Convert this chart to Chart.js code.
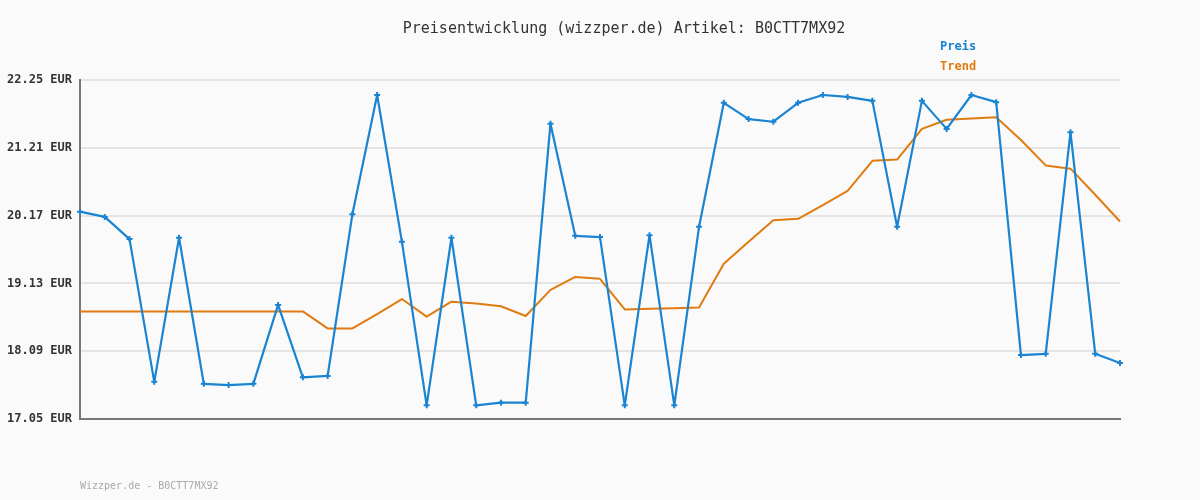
<!DOCTYPE html>
<html>
<head>
<meta charset="utf-8">
<script src="https://cdn.jsdelivr.net/npm/chart.js@4/dist/chart.umd.min.js"></script>
<style>
  html, body { margin: 0; padding: 0; background: #fafafa; }
  #wrap { position: relative; width: 1200px; height: 500px; font-family: "DejaVu Sans Mono", "Liberation Mono", monospace; }
  #title { position: absolute; left: 0; width: 1248px; top: 19px; text-align: center; font-size: 15px; color: #333; }
  .leg { position: absolute; left: 940px; font-size: 12px; font-weight: bold; }
  #footer { position: absolute; left: 80px; top: 480px; font-size: 10px; color: #aaa; }
</style>
</head>
<body>
<div id="wrap">
  <canvas id="priceChart" width="1200" height="500"></canvas>
  <div id="title">Preisentwicklung (wizzper.de) Artikel: B0CTT7MX92</div>
  <div class="leg" style="top:39px;color:#1581d0">Preis</div>
  <div class="leg" style="top:59px;color:#e07b10">Trend</div>
  <div id="footer">Wizzper.de - B0CTT7MX92</div>
</div>
<script>
let categories = [];
for (let i = 1; i <= 43; i++) categories.push(String(i));

let preis = [20.23, 20.15, 19.81, 17.62, 19.83, 17.59, 17.57, 17.59, 18.80, 17.69,
             17.71, 20.19, 22.02, 19.77, 17.26, 19.83, 17.26, 17.30, 17.30, 21.58,
             19.86, 19.84, 17.26, 19.87, 17.26, 20.00, 21.90, 21.65, 21.61, 21.90,
             22.02, 21.99, 21.93, 20.00, 21.93, 21.50, 22.02, 21.91, 18.03, 18.05,
             21.45, 18.05, 17.91];

let trend = [18.70, 18.70, 18.70, 18.70, 18.70, 18.70, 18.70, 18.70, 18.70, 18.70,
             18.44, 18.44, 18.66, 18.89, 18.62, 18.85, 18.82, 18.78, 18.63, 19.03,
             19.23, 19.20, 18.73, 18.74, 18.75, 18.76, 19.43, 19.77, 20.10, 20.12,
             20.33, 20.55, 21.01, 21.03, 21.50, 21.64, 21.66, 21.68, 21.33, 20.94,
             20.89, 20.49, 20.08];

let yTicks = [17.05, 18.09, 19.13, 20.17, 21.21, 22.25];

let ctx = document.getElementById('priceChart').getContext('2d');

let priceChart = new Chart(ctx, {
    type: 'line',
    data: {
        labels: categories,
        datasets: [{
            label: 'Preis',
            data: preis,
            borderColor: '#1a84d2',
            backgroundColor: '#1581d0',
            borderWidth: 2.2,
            borderJoinStyle: 'round',
            pointStyle: 'cross',
            pointRadius: 3,
            pointBorderWidth: 2,
            tension: 0
        }, {
            label: 'Trend',
            data: trend,
            borderColor: '#e07b10',
            backgroundColor: '#e07b10',
            borderWidth: 2,
            borderJoinStyle: 'round',
            pointRadius: 0,
            tension: 0
        }]
    },
    options: {
        responsive: false,
        animation: false,
        layout: { padding: { top: 80, right: 80, bottom: 81, left: 0 } },
        plugins: {
            legend: { display: false },
            tooltip: { enabled: false }
        },
        scales: {
            x: {
                offset: false,
                ticks: { display: false },
                grid: { display: false, drawTicks: false },
                border: { display: true, color: '#777', width: 2 }
            },
            y: {
                min: 17.05,
                max: 22.25,
                afterBuildTicks: function(axis) {
                    axis.ticks = yTicks.map(function(v) { return { value: v }; });
                },
                afterFit: function(axis) { axis.width = 80; },
                ticks: {
                    padding: 8,
                    color: '#333',
                    font: { family: '"DejaVu Sans Mono", monospace', size: 12, weight: 'bold' },
                    callback: function(v) { return v.toFixed(2) + ' EUR'; }
                },
                grid: { color: '#e4e4e4', lineWidth: 2, drawTicks: false },
                border: { display: true, color: '#777', width: 2 }
            }
        }
    }
});
</script>
</body>
</html>
